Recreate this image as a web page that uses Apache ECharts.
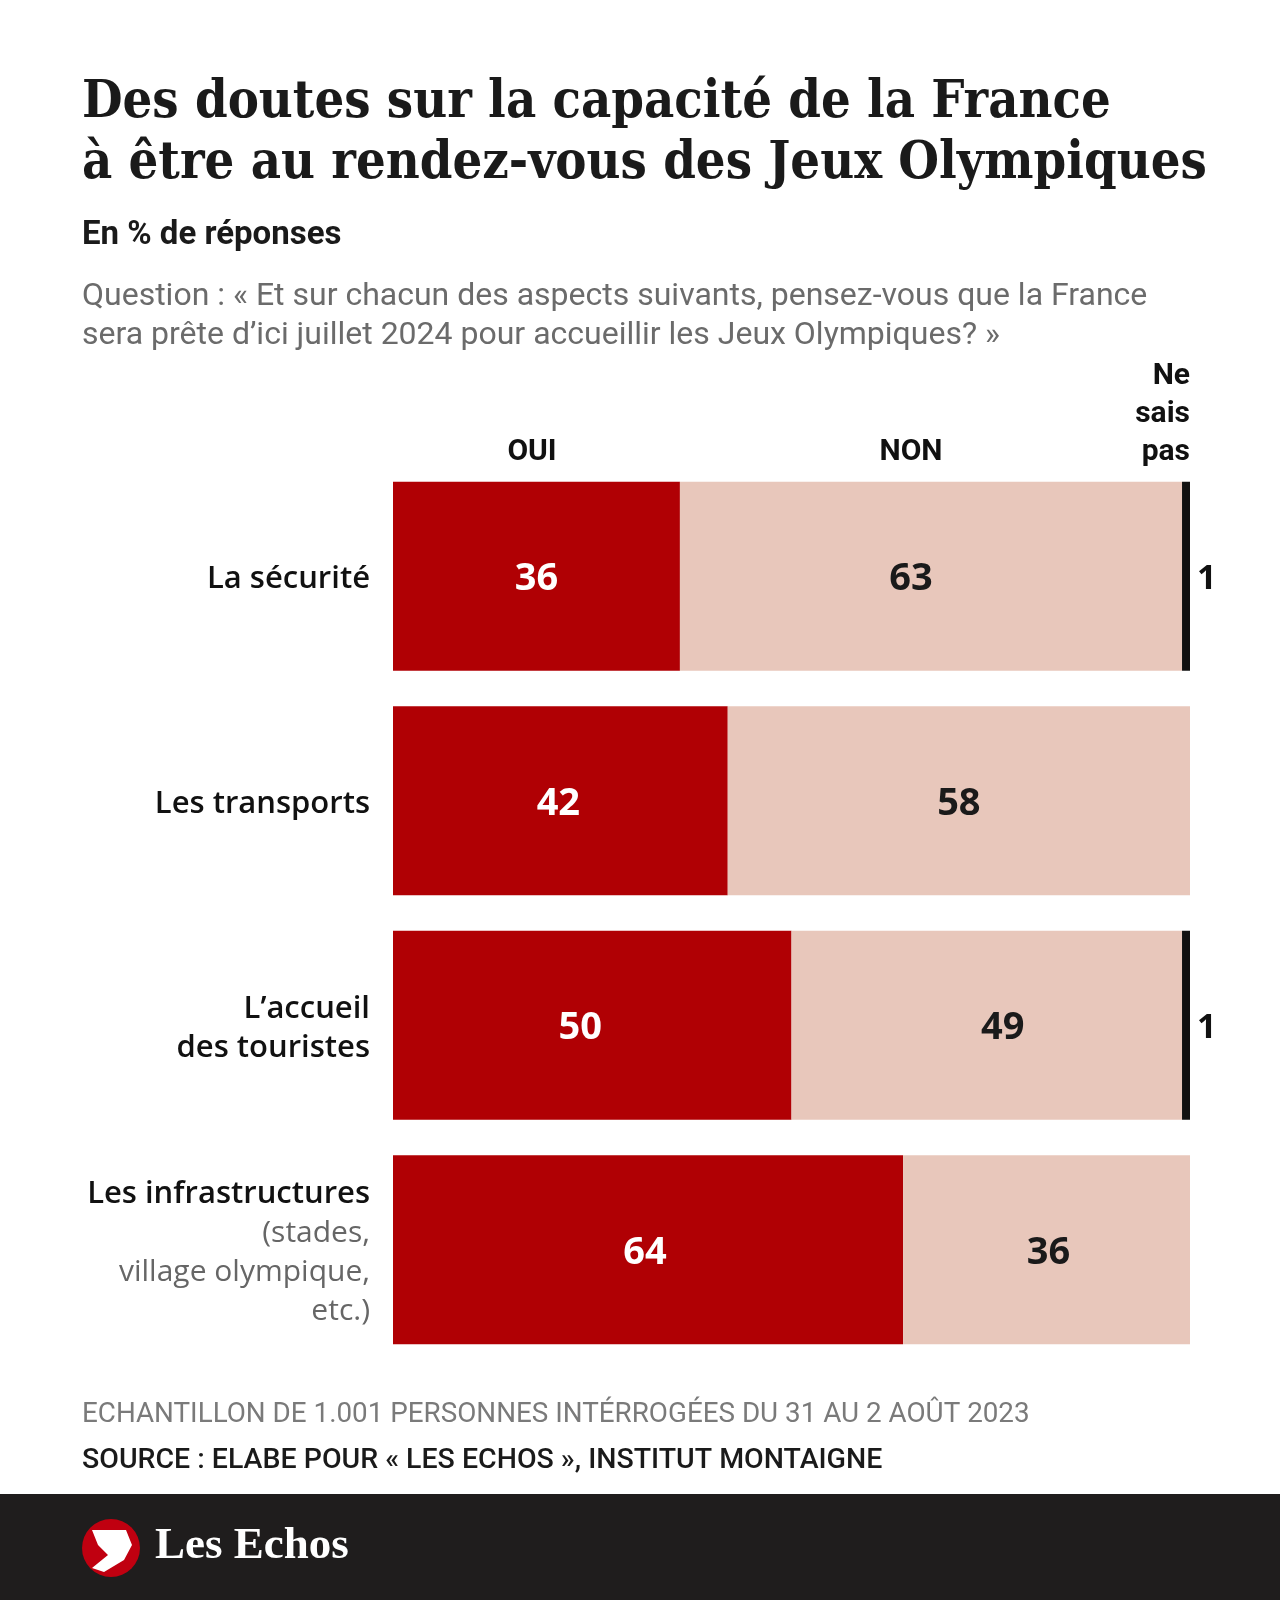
<!DOCTYPE html>
<html>
<head>
<meta charset="utf-8">
<script src="https://cdn.jsdelivr.net/npm/echarts@6/dist/echarts.min.js"></script>
<style>
html,body{margin:0;padding:0;background:#fff;}
#chart{width:1280px;height:1600px;}
</style>
</head>
<body>
<div id="chart"></div>
<script>
const categories = ['La sécurité', 'Les transports', 'L’accueil\ndes touristes', 'Les infrastructures'];
const categoryNotes = ['', '', '', '(stades,\nvillage olympique,\netc.)'];
const oui = [36, 42, 50, 64];
const non = [63, 58, 49, 36];
const nsp = [1, 0, 1, 0];
const seriesNames = ['OUI', 'NON', 'Ne sais pas'];
// small horizontal nudges of the value labels, as placed in the original
const ouiLabelNudge = [0, -2, -12, -3];
const nonLabelNudge = [-20, 0, 16, 2];

const chart = echarts.init(document.getElementById('chart'), null, {renderer: 'canvas'});
const sans = 'Roboto, "Open Sans", sans-serif';
const labelFont = '"Open Sans", Roboto, sans-serif';

function withNudge(values, nudges) {
  return values.map((v, i) => ({value: v, label: {offset: [nudges[i], 3]}}));
}

const option = {
  backgroundColor: '#ffffff',
  animation: false,
  grid: {left: 393, right: 90, top: 464, bottom: 238, containLabel: false},
  xAxis: {type: 'value', min: 0, max: 100, show: false},
  yAxis: {
    type: 'category',
    inverse: true,
    data: categories,
    axisLine: {show: false},
    axisTick: {show: false},
    splitLine: {show: false},
    axisLabel: {
      margin: 23,
      align: 'right',
      padding: [6, 0, 0, 0],
      formatter: function (v, i) {
        const lines = v.split('\n').map(s => '{b|' + s + '}');
        const note = categoryNotes[i] ? categoryNotes[i].split('\n').map(s => '{g|' + s + '}') : [];
        return lines.concat(note).join('\n');
      },
      rich: {
        b: {fontFamily: labelFont, fontSize: 31, fontWeight: 600, color: '#111', lineHeight: 39, align: 'right'},
        g: {fontFamily: labelFont, fontSize: 30, fontWeight: 400, color: '#666', lineHeight: 39, align: 'right'}
      }
    }
  },
  series: [
    {
      name: seriesNames[0], type: 'bar', stack: 't', data: withNudge(oui, ouiLabelNudge), barWidth: 189,
      itemStyle: {color: '#b00004'},
      label: {show: true, position: 'inside', color: '#ffffff', fontFamily: labelFont, fontWeight: 700, fontSize: 38}
    },
    {
      name: seriesNames[1], type: 'bar', stack: 't', data: withNudge(non, nonLabelNudge), barWidth: 189,
      itemStyle: {color: '#e8c7bb'},
      label: {show: true, position: 'inside', color: '#1a1a1a', fontFamily: labelFont, fontWeight: 700, fontSize: 38}
    },
    {
      name: seriesNames[2], type: 'bar', stack: 't', data: nsp, barWidth: 189,
      itemStyle: {color: '#111111'},
      label: {
        show: true, position: 'right', distance: 7, offset: [0, 3], color: '#111', fontFamily: labelFont, fontWeight: 700, fontSize: 34,
        formatter: p => p.value ? String(p.value) : ''
      }
    }
  ],
  graphic: [
    {type: 'text', left: 82, top: 73, style: {text: 'Des doutes sur la capacité de la France\nà être au rendez-vous des Jeux Olympiques', font: 'bold 52px "DejaVu Serif Condensed", "DejaVu Serif", serif', fill: '#1a1a1a', lineHeight: 61}},
    {type: 'text', left: 82, top: 219, style: {text: 'En % de réponses', font: 'bold 33px ' + sans, fill: '#1a1a1a'}},
    {type: 'text', left: 82, top: 277, style: {text: 'Question : « Et sur chacun des aspects suivants, pensez-vous que la France\nsera prête d’ici juillet 2024 pour accueillir les Jeux Olympiques? »', font: '32px ' + sans, fill: '#6b6b6b', lineHeight: 39}},
    {type: 'text', x: 532, y: 452, style: {text: 'OUI', font: 'bold 30px ' + sans, fill: '#111', textAlign: 'center', textVerticalAlign: 'middle'}},
    {type: 'text', x: 911, y: 452, style: {text: 'NON', font: 'bold 30px ' + sans, fill: '#111', textAlign: 'center', textVerticalAlign: 'middle'}},
    {type: 'text', x: 1190, y: 376, style: {text: 'Ne', font: 'bold 30px ' + sans, fill: '#111', textAlign: 'right', textVerticalAlign: 'middle'}},
    {type: 'text', x: 1190, y: 414, style: {text: 'sais', font: 'bold 30px ' + sans, fill: '#111', textAlign: 'right', textVerticalAlign: 'middle'}},
    {type: 'text', x: 1190, y: 452, style: {text: 'pas', font: 'bold 30px ' + sans, fill: '#111', textAlign: 'right', textVerticalAlign: 'middle'}},
    {type: 'text', left: 82, top: 1401, style: {text: 'ECHANTILLON DE 1.001 PERSONNES INTÉRROGÉES DU 31 AU 2 AOÛT 2023', font: '27.8px ' + sans, fill: '#7a7a7a'}},
    {type: 'text', left: 82, top: 1446, style: {text: 'SOURCE : ELABE POUR « LES ECHOS », INSTITUT MONTAIGNE', font: '500 28.5px ' + sans, fill: '#1a1a1a'}},
    {type: 'rect', shape: {x: 0, y: 1494, width: 1280, height: 106}, style: {fill: '#1f1d1d'}},
    {type: 'circle', shape: {cx: 111, cy: 1548, r: 29}, style: {fill: '#c00010'}},
    {type: 'polygon', shape: {points: [[92, 1530], [126, 1530], [132, 1545], [124, 1560], [104, 1572], [92, 1568], [108, 1555], [98, 1545]]}, style: {fill: '#ffffff'}},
    {type: 'text', left: 155, top: 1524, style: {text: 'Les Echos', font: 'bold 45px "Liberation Serif", serif', fill: '#ffffff'}}
  ]
};
chart.setOption(option);
</script>
</body>
</html>
